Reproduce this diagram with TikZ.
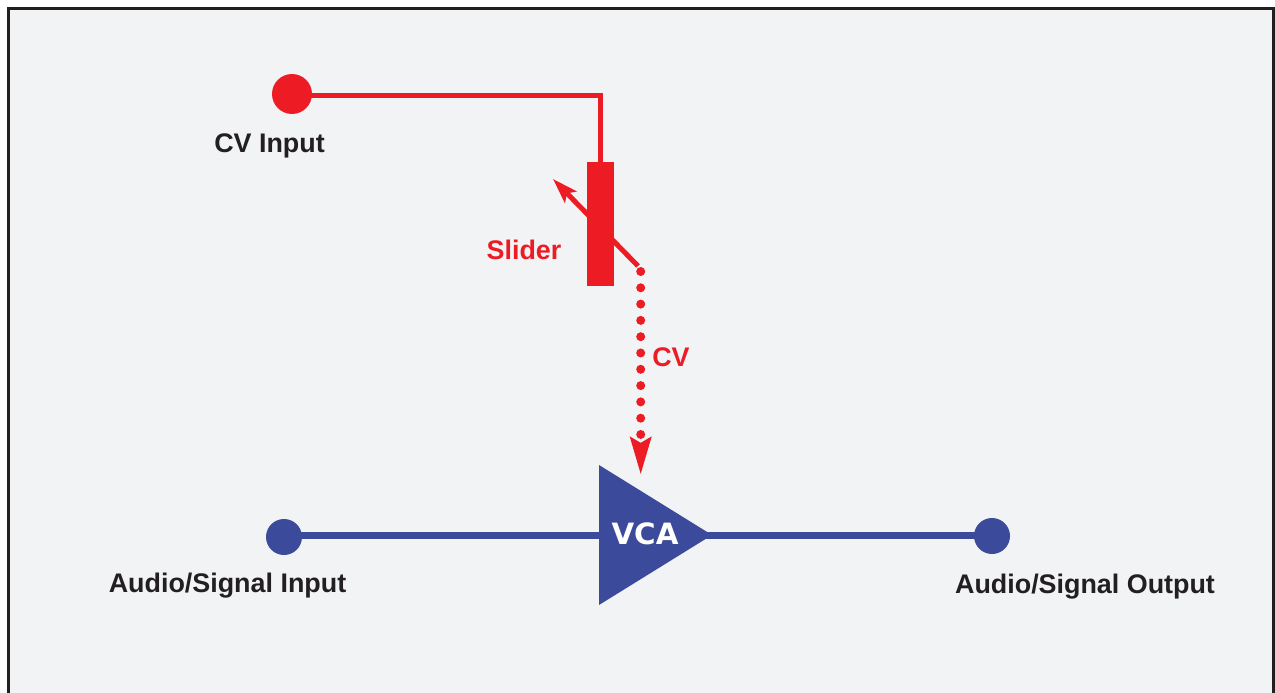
\documentclass[tikz,border=0pt]{standalone}
\usepackage{fontspec}
\setmainfont{Liberation Sans}
\newfontfamily\vcafont{DejaVu Sans}
\usetikzlibrary{arrows.meta,shapes.geometric}
\definecolor{panelgray}{HTML}{F1F3F5}
\definecolor{framegray}{HTML}{231F20}
\definecolor{cvred}{HTML}{ED1C24}
\definecolor{audioblue}{HTML}{3B4A9A}
\begin{document}
\begin{tikzpicture}
[x=0.02cm,y=-0.02cm,
jack/.style={circle,fill=#1,inner sep=0pt,outer sep=0pt},
lbl/.style={font=\bfseries\fontsize{15.3}{17}\selectfont,text=framegray,inner sep=0pt},
redlbl/.style={lbl,text=cvred},
redwire/.style={cvred,line width=0.1cm},
bluewire/.style={audioblue,line width=0.14cm}]
\useasboundingbox (0,0) rectangle (1275,693);
\fill[white] (0,0) rectangle (1275,693);
\fill[panelgray] (8.5,8.5) rectangle (1273.5,693);
\draw[framegray,line width=0.06cm] (8.5,693) -- (8.5,8.5) -- (1273.5,8.5) -- (1273.5,693);

\node (cvin) at (292,94)[jack=cvred,minimum size=0.8cm] {};
\node (audioin) at (284,537)[jack=audioblue,minimum size=0.72cm] {};
\node (audioout) at (992,536)[jack=audioblue,minimum size=0.72cm] {};
\coordinate (cvwire) at (292,95.5);
\coordinate (wipertail) at (638,266);
\coordinate (wipertip) at (553,179);
\coordinate (dotstart) at (640.7,271.5);
\coordinate (dotend) at (640.7,475);

\draw[redwire,-{Stealth[length=0.5cm,width=0.32cm,inset=0.1cm]}] (wipertail) -- (wipertip);
\node (slider) at (600.5,224)[fill=cvred,inner sep=0pt,outer sep=0pt,minimum width=0.54cm,minimum height=2.48cm] {};
\node (vca) at (712,535)[anchor=apex,isosceles triangle,isosceles triangle apex angle=64,isosceles triangle stretches,
fill=audioblue,inner sep=0pt,outer sep=0pt,minimum width=2.8cm,minimum height=2.26cm] {};

\draw[redwire] (cvwire) -| (slider);
\draw[bluewire] (audioin |- vca) -- (vca);
\draw[bluewire] (vca.center) -- (audioout |- vca);
\draw[cvred,line width=0.18cm,line cap=round,dash pattern=on 0pt off 0.326cm,
-{Stealth[length=0.74cm,width=0.4cm,inset=0.1cm]}] (dotstart) -- (dotend);

\node (vcatext) at (645,534)[font=\vcafont\bfseries\fontsize{16.7}{19}\selectfont,text=white,inner sep=0pt] {VCA};
\node (cvinlabel) at (269.5,146)[lbl] {CV Input};
\node (sliderlabel) at (524,249.5)[redlbl] {Slider};
\node (cvlabel) at (671,357)[redlbl] {CV};
\node (audioinlabel) at (227.5,586)[lbl] {Audio/Signal Input};
\node (audiooutlabel) at (1085,587)[lbl] {Audio/Signal Output};
\end{tikzpicture}
\end{document}
